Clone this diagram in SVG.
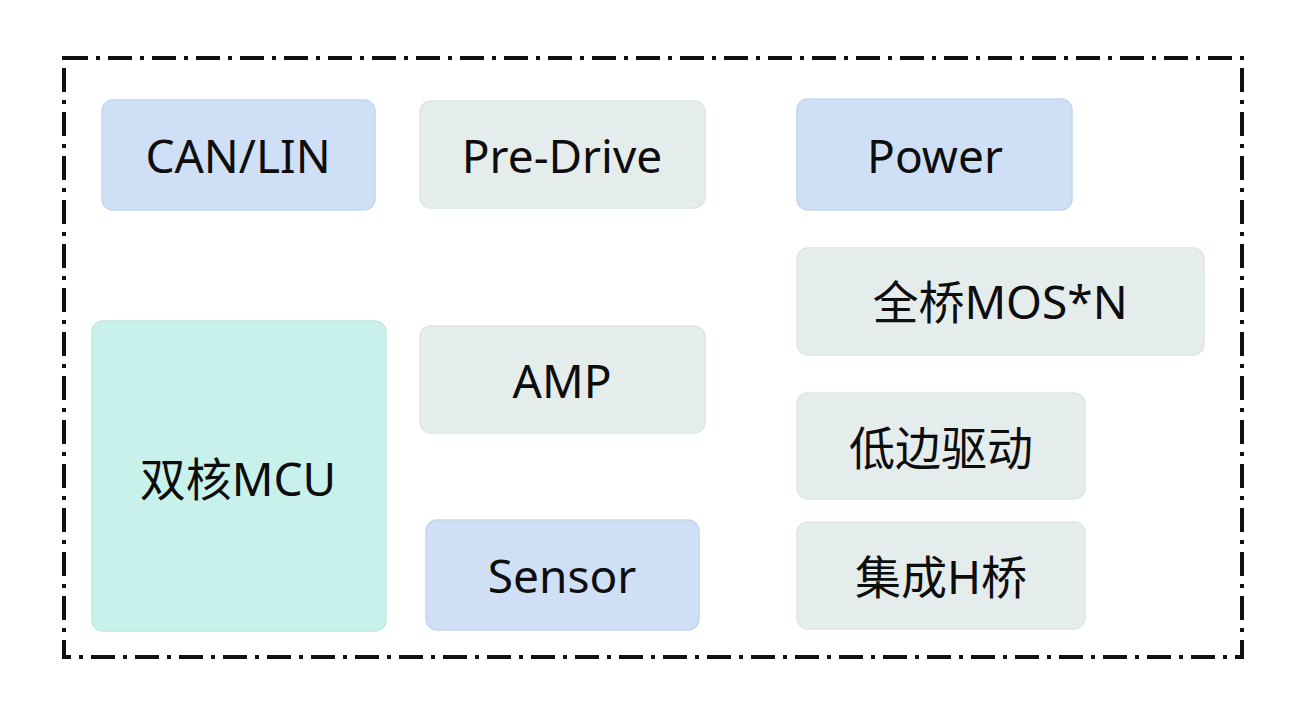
<svg xmlns="http://www.w3.org/2000/svg" width="1300" height="709" viewBox="0 0 1300 709">
<style>
.blue{fill:#cfe0f6;stroke:#c3d6ef;stroke-width:1.5}
.gray{fill:#e5ecec;stroke:#dde5e5;stroke-width:1.5}
.mint{fill:#c9f1eb;stroke:#bfe8e1;stroke-width:1.5}
.t{font-family:"Noto Sans","Noto Sans CJK SC",sans-serif;font-size:46px;fill:#0d0d0d;text-anchor:middle;dominant-baseline:central}
.frame{fill:none;stroke:#111;stroke-width:4;stroke-dasharray:24 8 4 8}
</style>
<rect width="1300" height="709" fill="#ffffff"/>
<rect class="frame" x="64" y="58" width="1178" height="599"/>
<g id="connectors"></g>
<g id="can"><rect class="blue" x="102" y="100" width="273" height="110" rx="11"/><text class="t" x="238" y="155">CAN/LIN</text></g>
<g id="predrive"><rect class="gray" x="420" y="101" width="285" height="107" rx="11"/><text class="t" x="562" y="155">Pre-Drive</text></g>
<g id="power"><rect class="blue" x="797" y="99" width="275" height="111" rx="11"/><text class="t" x="935" y="155">Power</text></g>
<g id="mos"><rect class="gray" x="797" y="248" width="407" height="107" rx="11"/><text class="t" x="1000" y="301">全桥MOS*N</text></g>
<g id="mcu"><rect class="mint" x="92" y="321" width="294" height="310" rx="11"/><text class="t" x="238" y="478">双核MCU</text></g>
<g id="amp"><rect class="gray" x="420" y="326" width="285" height="107" rx="11"/><text class="t" x="562" y="380">AMP</text></g>
<g id="lowside"><rect class="gray" x="797" y="393" width="288" height="106" rx="11"/><text class="t" x="941" y="447">低边驱动</text></g>
<g id="sensor"><rect class="blue" x="426" y="520" width="273" height="110" rx="11"/><text class="t" x="562" y="575">Sensor</text></g>
<g id="hbridge"><rect class="gray" x="797" y="522" width="288" height="107" rx="11"/><text class="t" x="941" y="576">集成H桥</text></g>
</svg>
